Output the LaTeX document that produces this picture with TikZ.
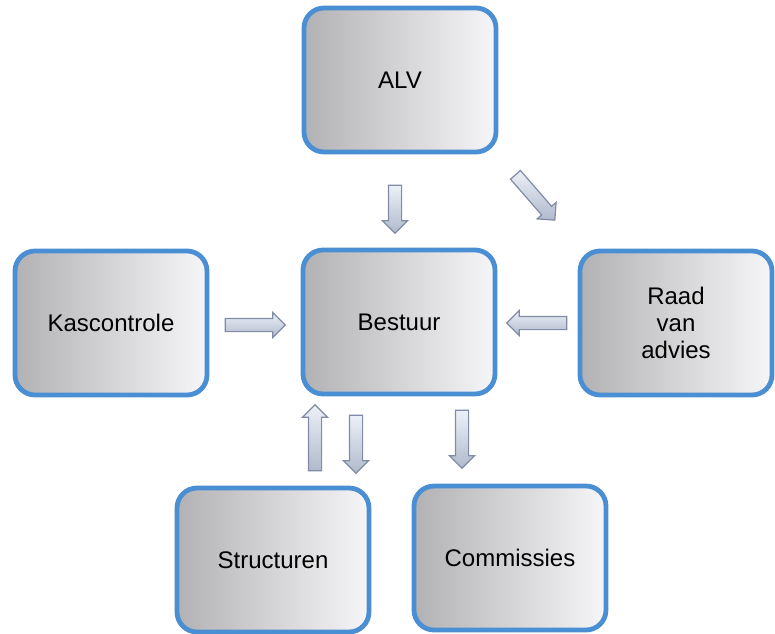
\documentclass[tikz,border=0pt]{standalone}
\usepackage{fontspec}
\setmainfont{Liberation Sans}
\usetikzlibrary{shapes.arrows}
\definecolor{cEdge} {RGB}{74,142,212}
\definecolor{cBoxL} {RGB}{178,178,180}
\definecolor{cBoxR} {RGB}{246,246,248}
\definecolor{cArrE} {RGB}{128,140,165}
\definecolor{cArrL} {RGB}{236,240,248}
\definecolor{cArrD} {RGB}{176,186,204}

\begin{document}
\begin{tikzpicture}[x=0.5pt, y=-0.5pt, font=\fontsize{12}{13.5}\selectfont]

%% ── shared styles ─────────────────────────────────────────────────────────
\tikzset{
  orgbox/.style={
    rectangle, rounded corners=10pt,
    minimum width=96pt, minimum height=72pt,
    align=center, inner sep=2pt,
    draw=cEdge, line width=2.4pt,
    left color=cBoxL, right color=cBoxR
  },
  blkarr/.style={
    single arrow, inner sep=3pt, minimum width=12pt,
    single arrow head extend=3pt, single arrow head indent=0pt,
    minimum height=#1, draw=cArrE, line width=0.6pt,
    top color=cArrL, bottom color=cArrD, shading angle=0
  },
}

\useasboundingbox (0,0) rectangle (775,633);

%% ── boxes ─────────────────────────────────────────────────────────────────
\node[orgbox] (BxALV)   at (400, 80) {ALV};
\node[orgbox] (BxKas)   at (111,323) {Kascontrole};
\node[orgbox] (BxBest)  at (399,322) {Bestuur};
\node[orgbox] (BxRaad)  at (676,323) {Raad\\van\\advies};
\node[orgbox] (BxStruc) at (273,560) {Structuren};
\node[orgbox] (BxComm)  at (510,558) {Commissies};

%% ── block arrows ──────────────────────────────────────────────────────────
\node[blkarr=24pt, rotate=-90] (ArALV)  at (395,206) {};
\node[blkarr=30pt, rotate=-49] (ArRaad) at (533,195) {};
\node[blkarr=30pt]             (ArKas)  at (252,325) {};
\node[blkarr=30pt, rotate=180] (ArBack) at (540,323) {};
\node[blkarr=33pt, rotate=90]  (ArUp)   at (315,441) {};
\node[blkarr=29pt, rotate=-90] (ArDnS)  at (356,441) {};
\node[blkarr=29pt, rotate=-90] (ArDnC)  at (462,436) {};

\end{tikzpicture}
\end{document}
